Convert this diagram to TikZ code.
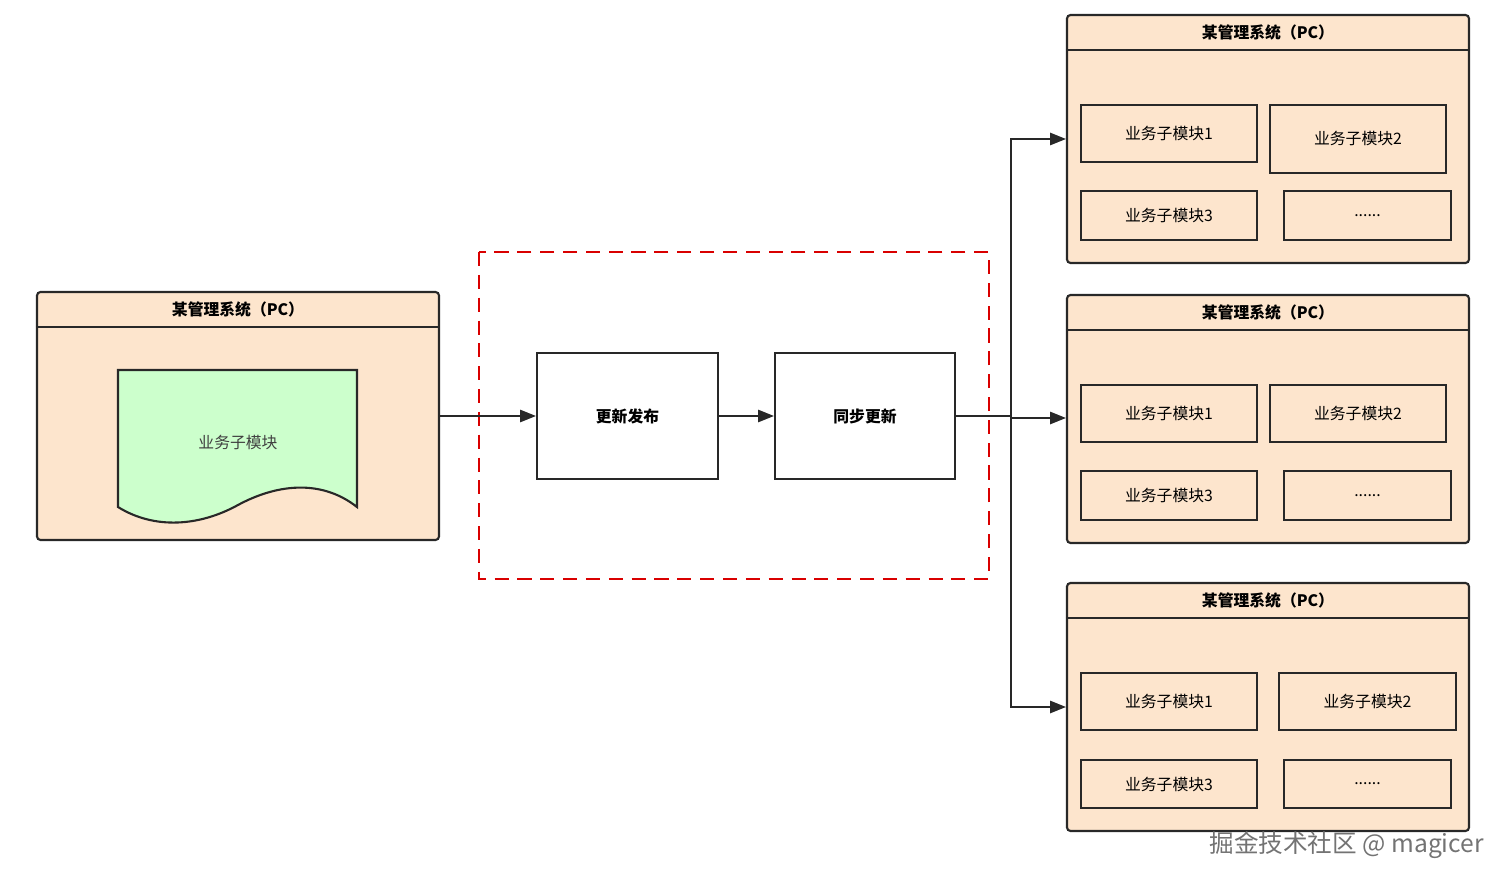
\documentclass[tikz,border=0pt]{standalone}
\usepackage{fontspec}
\setmainfont{Noto Sans CJK SC}
\usetikzlibrary{arrows.meta,positioning,calc}
\definecolor{peach}{RGB}{253,229,205}
\definecolor{mint}{RGB}{204,255,204}
\definecolor{edge}{RGB}{40,40,40}
\tikzset{
  box/.style={draw=edge, line width=1.2pt, rectangle, inner sep=0pt, font=\fontsize{9}{10}\selectfont},
  panel/.style={box, fill=peach, rounded corners=2pt},
  flow/.style={-{Triangle[length=9pt,width=7pt]}, draw=edge, line width=1pt},
}
% box from pixel corners: name, x1, y1, x2, y2, style, text
\newcommand\pxbox[7]{\node[#6, minimum width={(#4-#2)*0.02cm}, minimum height={(#5-#3)*0.02cm}]
  (#1) at ({(#2+#4)/2},{(#3+#5)/2}) {#7};}
% panel with header
\newcommand\panel[5]{\pxbox{#1}{#2}{#3}{#4}{#5}{panel}{}
  \draw[edge, line width=1.2pt] ($(#1.north west)+(0,36)$) -- ($(#1.north east)+(0,36)$);
  \node[font=\bfseries\fontsize{9}{10}\selectfont] (#1-title) at ($(#1.north)+(0,19)$) {某管理系统（PC）};}
\begin{document}
\begin{tikzpicture}[x=0.02cm, y=-0.02cm]
  \useasboundingbox (0,0) rectangle (1512,885);

  % source system
  \panel{src}{37}{292}{439}{540}
  \draw[edge, line width=1.2pt, fill=mint] (118,370) -- (357,370) -- (357,507)
    .. controls (320,478) and (275,485) .. (238,505)
    .. controls (200,526) and (155,530) .. (118,507) -- cycle;
  \node[font=\fontsize{9}{10}\selectfont, text=black!75] (doc) at (238,442) {业务子模块};

  % release flow
  \draw[red!85!black, dashed, dash pattern=on 8pt off 5pt, line width=1.2pt] (479,252) rectangle (989,579);
  \pxbox{pub}{537}{353}{718}{479}{box, fill=white, font=\bfseries\fontsize{9}{10}\selectfont}{更新发布}
  \pxbox{sync}{775}{353}{955}{479}{box, fill=white, font=\bfseries\fontsize{9}{10}\selectfont}{同步更新}
  \draw[flow] (src.east |- 0,416) -- (pub.west |- 0,416);
  \draw[flow] (pub) -- (sync);

  % target systems
  \panel{tgtA}{1067}{15}{1469}{263}
  \panel{tgtB}{1067}{295}{1469}{543}
  \panel{tgtC}{1067}{583}{1469}{831}
  \coordinate (split) at (1011,416);
  \draw[flow] (sync.east |- split) -- (split) |- (tgtA.west |- 0,139);
  \draw[flow] (split) |- (tgtB.west |- 0,418);
  \draw[flow] (split) |- (tgtC.west |- 0,707);

  \pxbox{a1}{1081}{105}{1257}{162}{box}{业务子模块1}
  \pxbox{a2}{1270}{105}{1446}{173}{box}{业务子模块2}
  \pxbox{a3}{1081}{191}{1257}{240}{box}{业务子模块3}
  \pxbox{a4}{1284}{191}{1451}{240}{box}{......}
  \pxbox{b1}{1081}{385}{1257}{442}{box}{业务子模块1}
  \pxbox{b2}{1270}{385}{1446}{442}{box}{业务子模块2}
  \pxbox{b3}{1081}{471}{1257}{520}{box}{业务子模块3}
  \pxbox{b4}{1284}{471}{1451}{520}{box}{......}
  \pxbox{c1}{1081}{673}{1257}{730}{box}{业务子模块1}
  \pxbox{c2}{1279}{673}{1456}{730}{box}{业务子模块2}
  \pxbox{c3}{1081}{760}{1257}{808}{box}{业务子模块3}
  \pxbox{c4}{1284}{760}{1451}{808}{box}{......}

  \node[anchor=east, text=black!55, font=\fontsize{14}{16}\selectfont] (mark) at (1490,845) {掘金技术社区 @ magicer};
\end{tikzpicture}
\end{document}
